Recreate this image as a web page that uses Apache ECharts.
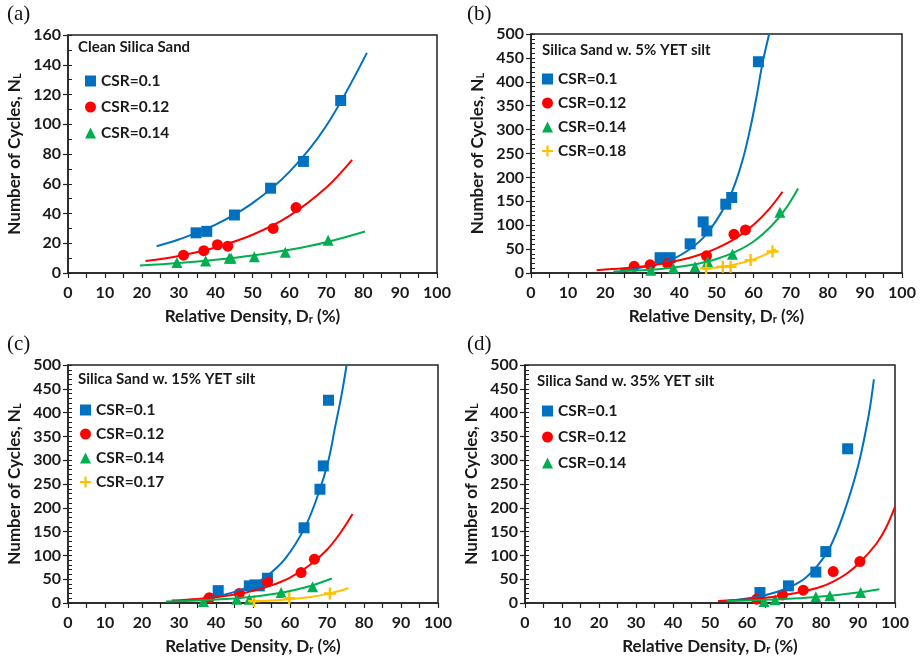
<!DOCTYPE html>
<html>
<head>
<meta charset="utf-8">
<script src="https://cdn.jsdelivr.net/npm/echarts@6/dist/echarts.min.js"></script>
<style>
	html, body { margin: 0; padding: 0; background: #fff; }
	#main { width: 921px; height: 660px; }
</style>
</head>
<body>
<div id="main"></div>
<script>
	// (a) Clean Silica Sand : [Dr %, NL]
	var aCsr010 = [[34.7, 27], [37.6, 28], [45.1, 39], [54.9, 57], [63.8, 75], [73.9, 116]];
	var aCsr012 = [[31.3, 12], [36.8, 15], [40.5, 19], [43.3, 18], [55.6, 30], [61.8, 44]];
	var aCsr014 = [[29.5, 7], [37.3, 8], [43.7, 10], [44.2, 10], [50.5, 11], [58.9, 14], [70.5, 22]];
	var aFit010 = [[24, 18], [30, 22.5], [40, 32.5], [50, 47], [60, 68], [70, 99], [81, 148]];
	var aFit012 = [[21, 8], [30, 11.5], [40, 17.2], [50, 25.7], [60, 38.4], [70, 57.4], [77, 76]];
	var aFit014 = [[19.5, 5], [30, 6.7], [40, 8.9], [50, 11.8], [60, 15.6], [70, 20.7], [80.5, 27.9]];

	// (b) 5% YET silt
	var bCsr010 = [[34.8, 32], [37.5, 32], [42.9, 61], [46.4, 107], [47.4, 88], [52.5, 144], [54.1, 158], [61.3, 442]];
	var bCsr012 = [[27.8, 14], [32.1, 17], [36.8, 20], [47.3, 36], [54.7, 81], [57.8, 90]];
	var bCsr014 = [[32.3, 6], [38.4, 10], [44.2, 13], [47.6, 24], [54.3, 39], [67.1, 127]];
	var bCsr018 = [[47.2, 10], [51.7, 13], [53.8, 13], [59.2, 27], [65.1, 45]];
	var bFit010 = [[24, 6], [30, 12], [37.5, 27], [43.7, 55], [48.2, 90], [53.6, 160], [56.8, 230], [59, 299], [60.8, 369], [62.4, 439], [64.2, 500]];
	var bFit012 = [[17.7, 6], [25, 9.8], [30, 13.6], [35, 19], [40, 26.6], [45, 37], [50, 51.7], [55, 72], [60, 101], [64, 132], [67.8, 170]];
	var bFit014 = [[22.2, 3], [30, 5.7], [35, 8.6], [40, 12.9], [45, 19.4], [50, 29.2], [55, 44], [60, 66], [65, 100], [68.5, 133], [72, 177]];
	var bFit018 = [[46.3, 8], [50, 11.3], [55, 18], [60, 28.6], [63, 37.8], [66, 50]];

	// (c) 15% YET silt
	var cCsr010 = [[40.6, 26], [49, 36], [50.5, 38], [51.7, 36], [53.9, 52], [63.8, 158], [68.1, 239], [69, 288], [70.4, 426]];
	var cCsr012 = [[38.2, 11], [46.3, 20], [53.9, 45], [63, 64], [66.6, 92]];
	var cCsr014 = [[36.6, 3], [45.6, 8], [49, 8], [57.6, 22], [66.1, 34]];
	var cCsr017 = [[50.3, 4], [59.8, 10], [70.8, 20]];
	var cFit010 = [[37, 10], [42, 17], [46.5, 27], [50, 38.5], [53.7, 56], [58.6, 92], [64.1, 160], [67.7, 230], [70.4, 300], [72.2, 370], [74, 440], [75.3, 500]];
	var cFit012 = [[28, 5], [35, 8.4], [40, 12.2], [45, 17.6], [50, 25.5], [55, 37], [60, 53.5], [65, 77.6], [70, 112], [73.5, 146], [76.9, 187]];
	var cFit014 = [[26.5, 3], [35, 5.2], [40, 7.1], [45, 9.7], [50, 13.3], [55, 18.3], [60, 25.2], [65, 34.6], [71.3, 51.6]];
	var cFit017 = [[49.2, 3], [55, 5], [60, 7.7], [65, 12], [70, 18.6], [75.8, 31]];

	// (d) 35% YET silt
	var dCsr010 = [[63.5, 22], [71.2, 36], [78.6, 65], [81.3, 108], [87.2, 324]];
	var dCsr012 = [[62.6, 8], [69.6, 17], [75.2, 27], [83.3, 66], [90.5, 87]];
	var dCsr014 = [[64.6, 3], [67.6, 7], [78.6, 13], [82.4, 15], [90.7, 22]];
	var dFit010 = [[52.2, 4], [58, 7.5], [63, 13], [68, 23], [72, 35], [75.7, 52], [79, 78], [82.3, 115], [86, 185], [90.1, 290], [92.9, 395], [94.3, 470]];
	var dFit012 = [[52.2, 4], [60, 7.5], [65, 11], [70, 16.5], [75.2, 24], [80, 34], [83.3, 45], [87, 62], [90.5, 85], [95, 125], [97.5, 157], [100, 202]];
	var dFit014 = [[54.5, 4], [60, 5.2], [65, 6.6], [70, 8.4], [75, 10.7], [80, 13.6], [85, 17.3], [90, 22], [95.8, 29]];

	var xTicks = { min: 0, max: 100, step: 10 };
	var yRanges = [[160, 20, 10], [500, 50, 10], [500, 50, 10], [500, 50, 10]];
	var panelTitles = ['Clean Silica Sand', 'Silica Sand w. 5% YET silt', 'Silica Sand w. 15% YET silt', 'Silica Sand w. 35% YET silt'];
	var panelLetters = ['(a)', '(b)', '(c)', '(d)'];

	var BLUE = '#0070C0', RED = '#FF0000', GREEN = '#00B050', GOLD = '#FFC000';
	var FONT = 'Lato';
	var INK = '#1a1a1a';
	var PLUS = 'path://M4,0H6V4H10V6H6V10H4V6H0V4H4Z';

	var grids = [
		{ left: 68, top: 35, width: 369, height: 238 },
		{ left: 531, top: 34, width: 371, height: 239 },
		{ left: 68, top: 365, width: 370, height: 238 },
		{ left: 525, top: 365, width: 370, height: 238 }
	];
	grids.forEach(function (g) {
		g.show = true;
		g.borderColor = '#222';
		g.borderWidth = 1.5;
		g.backgroundColor = 'transparent';
	});

	var bold = { fontFamily: FONT, fontWeight: 'bold', color: INK };
	var subRich = { sub: { fontFamily: FONT, fontWeight: 'bold', fontSize: 11, color: INK, verticalAlign: 'bottom', lineHeight: 12 } };

	var xAxes = [], yAxes = [];
	for (var i = 0; i < 4; i++) {
		xAxes.push({
			type: 'value', gridIndex: i,
			min: xTicks.min, max: xTicks.max, interval: xTicks.step,
			name: 'Relative Density, D{sub|r} (%)',
			nameLocation: 'middle', nameGap: 35,
			nameTextStyle: Object.assign({ fontSize: 17, rich: subRich }, bold),
			axisLine: { show: true, lineStyle: { color: '#222', width: 1.5 } },
			axisTick: { show: true, length: 5, lineStyle: { color: '#222', width: 1.2 } },
			minorTick: { show: true, splitNumber: 2, length: 5, lineStyle: { color: '#222', width: 1.2 } },
			axisLabel: Object.assign({ fontSize: 16, margin: 12 }, bold),
			splitLine: { show: false }
		});
		var yr = yRanges[i];
		yAxes.push({
			type: 'value', gridIndex: i,
			min: 0, max: yr[0], interval: yr[1],
			name: 'Number of Cycles, N{sub|L}',
			nameLocation: 'middle', nameGap: 45, nameRotate: 90,
			nameTextStyle: Object.assign({ fontSize: 17, rich: subRich }, bold),
			axisLine: { show: true, lineStyle: { color: '#222', width: 1.5 } },
			axisTick: { show: true, length: 5, lineStyle: { color: '#222', width: 1.2 } },
			axisLabel: Object.assign({ fontSize: 16, margin: 7 }, bold),
			splitLine: { show: false }
		});
		// minor ticks pointing inward
		yAxes.push({
			type: 'value', gridIndex: i, position: 'left',
			min: 0, max: yr[0], interval: yr[2],
			axisLine: { show: false },
			axisTick: { show: true, inside: true, length: 4, lineStyle: { color: '#222', width: 1 } },
			axisLabel: { show: false },
			splitLine: { show: false }
		});
	}

	function pts(name, data, gi, symbol, color, size) {
		return {
			name: name, type: 'scatter', xAxisIndex: gi, yAxisIndex: gi * 2,
			data: data, symbol: symbol, symbolSize: size || 11,
			itemStyle: { color: color, opacity: 1 }, z: 3
		};
	}
	function fit(data, gi, color) {
		return {
			name: 'fit', type: 'line', xAxisIndex: gi, yAxisIndex: gi * 2,
			data: data, smooth: 0.35, showSymbol: false, symbol: 'none',
			lineStyle: { color: color, width: 2 }, z: 4, silent: true
		};
	}

	var series = [
		pts('CSR=0.1', aCsr010, 0, 'rect', BLUE), pts('CSR=0.12', aCsr012, 0, 'circle', RED), pts('CSR=0.14', aCsr014, 0, 'triangle', GREEN),
		fit(aFit010, 0, BLUE), fit(aFit012, 0, RED), fit(aFit014, 0, GREEN),

		pts('CSR=0.1', bCsr010, 1, 'rect', BLUE), pts('CSR=0.12', bCsr012, 1, 'circle', RED), pts('CSR=0.14', bCsr014, 1, 'triangle', GREEN), pts('CSR=0.18', bCsr018, 1, PLUS, GOLD, 12),
		fit(bFit010, 1, BLUE), fit(bFit012, 1, RED), fit(bFit014, 1, GREEN), fit(bFit018, 1, GOLD),

		pts('CSR=0.1', cCsr010, 2, 'rect', BLUE), pts('CSR=0.12', cCsr012, 2, 'circle', RED), pts('CSR=0.14', cCsr014, 2, 'triangle', GREEN), pts('CSR=0.17', cCsr017, 2, PLUS, GOLD, 12),
		fit(cFit010, 2, BLUE), fit(cFit012, 2, RED), fit(cFit014, 2, GREEN), fit(cFit017, 2, GOLD),

		pts('CSR=0.1', dCsr010, 3, 'rect', BLUE), pts('CSR=0.12', dCsr012, 3, 'circle', RED), pts('CSR=0.14', dCsr014, 3, 'triangle', GREEN),
		fit(dFit010, 3, BLUE), fit(dFit012, 3, RED), fit(dFit014, 3, GREEN)
	];

	var legendText = Object.assign({ fontSize: 15.5, lineHeight: 14 }, bold);
	function legendAt(left, top, gap, names) {
		return {
			left: left, top: top, orient: 'vertical', itemGap: gap,
			itemWidth: 11, itemHeight: 11, selectedMode: false,
			data: names, textStyle: legendText, padding: 0
		};
	}
	var legends = [
		legendAt(85, 73, 10, ['CSR=0.1', 'CSR=0.12', 'CSR=0.14']),
		legendAt(542, 71, 8, ['CSR=0.1', 'CSR=0.12', 'CSR=0.14', 'CSR=0.18']),
		legendAt(80, 402, 8, ['CSR=0.1', 'CSR=0.12', 'CSR=0.14', 'CSR=0.17']),
		legendAt(542, 403, 10, ['CSR=0.1', 'CSR=0.12', 'CSR=0.14'])
	];

	var titlePos = [[78, 40], [542, 43], [78, 372], [537, 374]];
	var titles = panelTitles.map(function (t, k) {
		return {
			text: t, left: titlePos[k][0], top: titlePos[k][1], padding: 0,
			textStyle: Object.assign({ fontSize: 15 }, bold)
		};
	});

	var letterPos = [[7, 4], [467, 4], [7, 334], [467, 334]];
	var graphics = panelLetters.map(function (t, k) {
		return {
			type: 'text', left: letterPos[k][0], top: letterPos[k][1],
			style: { text: t, fontFamily: 'Liberation Serif', fontSize: 21, fill: '#111' }
		};
	});

	var myChart = echarts.init(document.getElementById('main'));
	myChart.setOption({
		animation: false,
		backgroundColor: '#fff',
		title: titles,
		legend: legends,
		grid: grids,
		xAxis: xAxes,
		yAxis: yAxes,
		series: series,
		graphic: graphics
	});
</script>
</body>
</html>
